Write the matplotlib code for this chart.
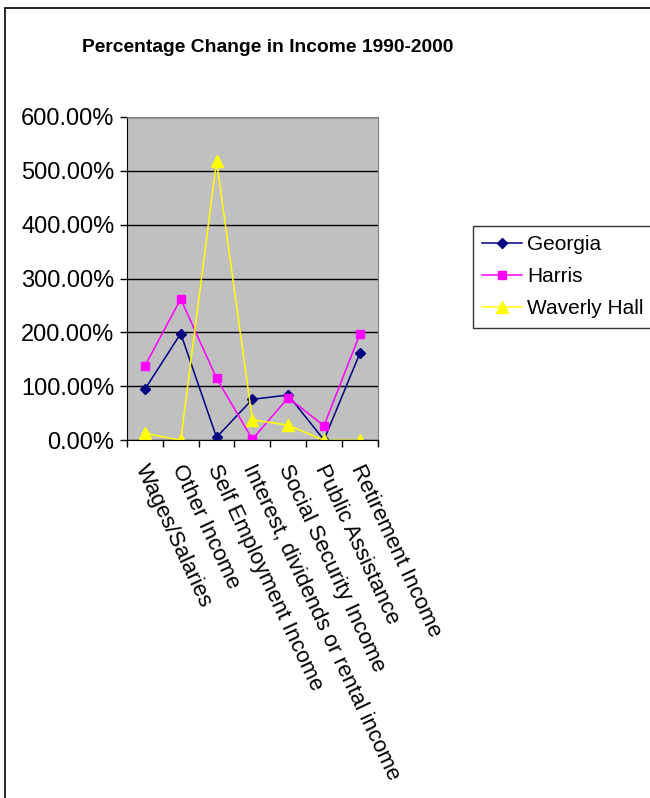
import matplotlib.pyplot as plt
import matplotlib.patches as patches
import numpy as np
from matplotlib.ticker import FuncFormatter

plt.rcParams['font.family'] = ['Liberation Sans', 'DejaVu Sans']

categories = ['Wages/Salaries', 'Other Income', 'Self Employment Income',
              'Interest, dividends or rental income', 'Social Security Income',
              'Public Assistance', 'Retirement Income']
georgia = [94.6, 198, 5.6, 76, 84, 0.6, 161]
harris = [138, 262, 115, 2, 79, 27, 196.5]
waverly_hall = [13, 0, 518, 38, 28, 0, 0]

fig = plt.figure(figsize=(6.5, 7.98), dpi=100)
ax = fig.add_axes([127 / 650, 1 - 440.3 / 798, 250.7 / 650, 323.6 / 798])

x = np.arange(len(categories))
ax.plot(x, georgia, color='#000080', marker='D', ms=5.5, lw=1.1, label='Georgia')
ax.plot(x, harris, color='#FF00FF', marker='s', ms=6, lw=1.1, label='Harris')
ax.plot(x, waverly_hall, color='#FFFF00', marker='^', ms=8, lw=1.1, label='Waverly Hall')

ax.set_facecolor('#C0C0C0')
ax.set_xlim(-0.5, len(categories) - 0.5)
ax.set_ylim(0, 600)
ax.set_yticks(np.arange(0, 601, 100))
ax.yaxis.set_major_formatter(FuncFormatter(lambda v, p: f'{v:.2f}%'))
ax.grid(axis='y', color='black', lw=1)
ax.set_axisbelow(True)

ax.set_xticks(np.arange(-0.5, len(categories)), minor=True)
ax.set_xticks(x)
ax.set_xticklabels([])
ax.tick_params(axis='x', which='major', length=0)
ax.tick_params(axis='x', which='minor', length=5, width=1, color='black')
ax.tick_params(axis='y', length=5, width=1, labelsize=17, pad=4)

for s in ['top', 'right']:
    ax.spines[s].set_color('#808080')
for s in ['left', 'bottom']:
    ax.spines[s].set_color('black')

for i, lab in enumerate(categories):
    ax.annotate(lab, xy=(i, 0), xycoords=('data', 'axes fraction'),
                xytext=(-3, -18), textcoords='offset points',
                rotation=-65, rotation_mode='anchor', ha='left', va='center',
                fontsize=16)

fig.text(267.5 / 650, 1 - 48 / 798, 'Percentage Change in Income 1990-2000',
         ha='center', va='center', fontsize=13.9, fontweight='bold')

leg = fig.legend(loc='upper left', bbox_to_anchor=(473 / 650, 1 - 226 / 798),
                 fontsize=15, frameon=True, fancybox=False, edgecolor='black',
                 borderpad=0.45, handlelength=1.9, handletextpad=0.25, labelspacing=0.62,
                 borderaxespad=0)
leg.get_frame().set_linewidth(1)

fig.patches.append(patches.Rectangle((5 / 650, -0.1), 1, 1 - 8 / 798 + 0.1,
                                     transform=fig.transFigure, fill=False,
                                     edgecolor='black', lw=1.2))

fig.savefig('out.png', dpi=100)
